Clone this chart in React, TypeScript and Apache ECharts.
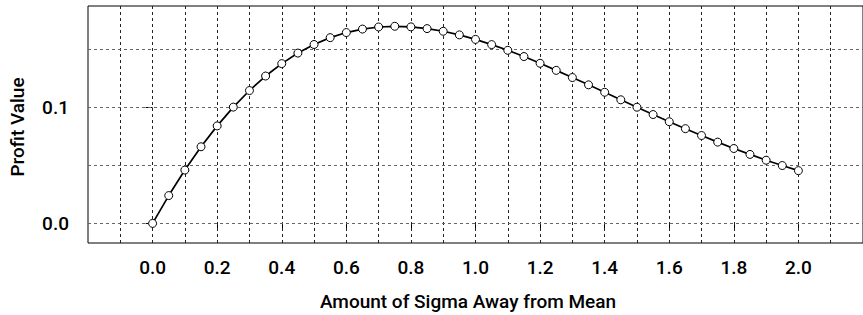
import React, { useEffect, useRef } from "react";
import * as echarts from "echarts";

const sigma = [
  0, 0.05, 0.1, 0.15, 0.2, 0.25, 0.3, 0.35, 0.4, 0.45, 0.5, 0.55, 0.6, 0.65,
  0.7, 0.75, 0.8, 0.85, 0.9, 0.95, 1.0, 1.05, 1.1, 1.15, 1.2, 1.25, 1.3, 1.35,
  1.4, 1.45, 1.5, 1.55, 1.6, 1.65, 1.7, 1.75, 1.8, 1.85, 1.9, 1.95, 2.0,
];
const profit = [
  0, 0.024, 0.046, 0.0661, 0.0841, 0.1003, 0.1146, 0.1271, 0.1378, 0.1469,
  0.1543, 0.1602, 0.1646, 0.1676, 0.1694, 0.17, 0.1695, 0.168, 0.1657, 0.1626,
  0.1587, 0.1542, 0.1493, 0.1439, 0.1381, 0.132, 0.1258, 0.1195, 0.1131,
  0.1066, 0.1002, 0.0939, 0.0877, 0.0817, 0.0758, 0.0701, 0.0646, 0.0595,
  0.0545, 0.0499, 0.0455,
];
const xTickLabels = [0, 0.2, 0.4, 0.6, 0.8, 1.0, 1.2, 1.4, 1.6, 1.8, 2.0];
const yTickLabels = [0, 0.1];
const xGrid = [
  -0.1, 0, 0.1, 0.2, 0.3, 0.4, 0.5, 0.6, 0.7, 0.8, 0.9, 1.0, 1.1, 1.2, 1.3,
  1.4, 1.5, 1.6, 1.7, 1.8, 1.9, 2.0, 2.1,
];
const yGrid = [0, 0.05, 0.1, 0.15];

const FONT = "Roboto, 'Liberation Sans', sans-serif";
const FW = 500;
const FS = 19;

export default function App() {
  const ref = useRef<HTMLDivElement>(null);
  useEffect(() => {
    document.body.style.margin = "0";
    const chart = echarts.init(ref.current!, null, { renderer: "svg" });
    const gridLines = [
      ...xGrid.map((v) => ({
        xAxis: v,
        lineStyle: { color: "#222", width: 1, type: [3, 3] },
      })),
      ...yGrid.map((v) => ({
        yAxis: v,
        lineStyle: { color: "#666", width: 1, type: [3, 3] },
      })),
    ];
    chart.setOption({
      animation: false,
      grid: {
        left: 88,
        top: 6,
        width: 776,
        height: 237,
        show: true,
        borderColor: "#000",
        borderWidth: 1,
        backgroundColor: "transparent",
      },
      xAxis: {
        type: "value",
        min: -0.2,
        max: 2.2,
        axisLine: { show: false },
        splitLine: { show: false },
        axisTick: {
          show: true,
          length: 7,
          customValues: xTickLabels,
          lineStyle: { color: "#000", width: 1 },
        },
        axisLabel: {
          customValues: xTickLabels,
          formatter: (v: number) => v.toFixed(1),
          color: "#000",
          fontFamily: FONT,
          fontWeight: FW,
          fontSize: FS,
          margin: 15,
        },
      },
      yAxis: {
        type: "value",
        min: -0.0169,
        max: 0.1875,
        axisLine: { show: false },
        splitLine: { show: false },
        axisTick: {
          show: true,
          length: 7,
          customValues: yTickLabels,
          lineStyle: { color: "#000", width: 1 },
        },
        axisLabel: {
          customValues: yTickLabels,
          formatter: (v: number) => v.toFixed(1),
          color: "#000",
          fontFamily: FONT,
          fontWeight: FW,
          fontSize: FS,
          margin: 19,
        },
      },
      graphic: [
        {
          type: "text",
          x: 17,
          y: 127,
          rotation: Math.PI / 2,
          style: {
            text: "Profit Value",
            fontFamily: FONT,
            fontWeight: FW,
            fontSize: FS,
            fill: "#000",
            align: "center",
            verticalAlign: "middle",
          },
        },
        {
          type: "text",
          x: 468,
          y: 301,
          style: {
            text: "Amount of Sigma Away from Mean",
            fontFamily: FONT,
            fontWeight: FW,
            fontSize: FS,
            fill: "#000",
            align: "center",
            verticalAlign: "middle",
          },
        },
      ],
      series: [
        {
          type: "line",
          data: [],
          z: 1,
          silent: true,
          markLine: {
            z: 1,
            silent: true,
            symbol: ["none", "none"],
            label: { show: false },
            data: gridLines,
          },
        },
        {
          type: "line",
          z: 3,
          data: sigma.map((s, i) => [s, profit[i]]),
          lineStyle: { color: "#000", width: 1.7 },
          symbol: "circle",
          symbolSize: 8,
          itemStyle: { color: "#fff", borderColor: "#000", borderWidth: 1 },
        },
      ],
    });
    return () => chart.dispose();
  }, []);
  return <div ref={ref} style={{ width: 863, height: 315 }} />;
}
